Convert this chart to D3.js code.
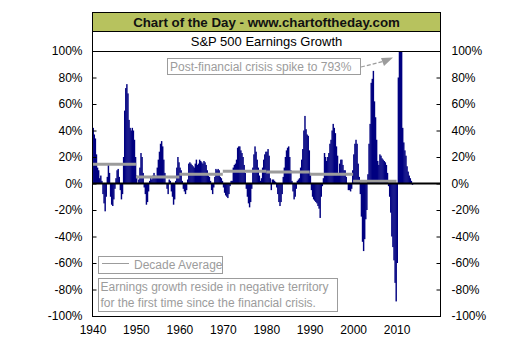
<!DOCTYPE html>
<html><head><meta charset="utf-8">
<script src="https://cdn.jsdelivr.net/npm/d3@7"></script>
<style>
body{margin:0;background:#fff}
text{font-family:"Liberation Sans",Arial,sans-serif}
</style>
</head><body>
<svg id="c" width="532" height="355"></svg>
<script>
// ---- data ----
const startYear = 1940;            // first quarter of the series
const quarterlyGrowth = [          // year-over-year earnings growth (%), one value per quarter
  42, 37, 34, 22,   // 1940
  12, 10, 4, 6,     // 1941
  2, -8, -15, -21,  // 1942
  -10, 5, 14, 8,    // 1943
  -10, -16, -17, -12, // 1944
  -4, 4, 10, 11,    // 1945
  5, -5, -12, -8,   // 1946
  20, 55, 72, 75,   // 1947
  68, 48, 42, 40,   // 1948
  42, 40, 33, 20,   // 1949
  6, 0, 3, 12,      // 1950
  23, 20, 8, -3,    // 1951
  -8, -16, -14, -6, // 1952
  2, 5, 3, 6,       // 1953
  8, 6, 5, 12,      // 1954
  18, 24, 30, 32,   // 1955
  28, 18, 8, 0,     // 1956
  -4, -8, 3, 2,     // 1957
  -6, -10, -16, -12, // 1958
  2, 12, 20, 16,    // 1959
  12, 10, 2, -4,    // 1960
  -6, -8, -5, 3,    // 1961
  15, 16, 15, 14,   // 1962
  13, 12, 15, 18,   // 1963
  14, 15, 18, 17,   // 1964
  16, 15, 17, 16,   // 1965
  14, 10, 6, 5,     // 1966
  2, -5, -8, -3,    // 1967
  5, 11, 10, 11,    // 1968
  10, 5, 4, 2,      // 1969
  -3, -7, -9, -10,  // 1970
  -11, -8, -2, 2,   // 1971
  2, 12, 14, 15,    // 1972
  18, 27, 28, 28,   // 1973
  25, 23, 20, 14,   // 1974
  8, -4, -10, -15,  // 1975
  -18, -14, -4, 12, // 1976
  22, 28, 24, 18,   // 1977
  12, 6, 2, 4,      // 1978
  12, 18, 22, 24,   // 1979
  24, 26, 21, 4,    // 1980
  -5, 3, 3, 2,      // 1981
  1, -3, -8, -14,   // 1982
  -17, -14, -8, 5,  // 1983
  12, 20, 25, 27,   // 1984
  28, 20, 10, 2,    // 1985
  -6, -12, -10, -4, // 1986
  2, 3, 4, 12,      // 1987
  18, 26, 40, 51,   // 1988
  41, 37, 36, 25,   // 1989
  8, -5, -10, -12,  // 1990
  -13, -14, -15, -17, // 1991
  -19, -26, -10, -2, // 1992
  4, 23, 20, 17,    // 1993
  20, 23, 30, 33,   // 1994
  40, 45, 42, 38,   // 1995
  28, 21, 8, 15,    // 1996
  18, 18, 14, 10,   // 1997
  10, 5, 0, -5,     // 1998
  -5, -6, -4, 10,   // 1999
  22, 30, 33, 30,   // 2000
  15, 5, -8, -25,   // 2001
  -44, -51, -42, -27, // 2002
  -20, 7, 30, 45,   // 2003
  76, 79, 85, 62,   // 2004
  50, 33, 17, 14,   // 2005
  22, 21, 19, 18,   // 2006
  17, 16, 14, 8,    // 2007
  -2, -10, -22, -40, // 2008
  -48, -58, -75, -89, // 2009
  -60, 80, 793, 400, // 2010
  200, 42, 31, 25,  // 2011
  21, 13, 9, 6,     // 2012
  4, 2, -1          // 2013
];
const decadeStarts   = [1940, 1950, 1960, 1970, 1980, 1990, 2000];
const decadeAverages = [14.5, 5, 7, 9.3, 8.7, 7, 1.7];
const yTicks = [-100, -80, -60, -40, -20, 0, 20, 40, 60, 80, 100];
const xTicks = [1940, 1950, 1960, 1970, 1980, 1990, 2000, 2010];
const titleText = "Chart of the Day - www.chartoftheday.com";
const subtitleText = "S&P 500 Earnings Growth";
const spikeNote = "Post-financial crisis spike to 793%";
const legendText = "Decade Average";
const noteLines = ["Earnings growth reside in negative territory",
                   "for the first time since the financial crisis."];

// ---- layout ----
const L = 92.5, R = 440.5, T = 12.5, TB = 31.5, PT = 51.5, B = 316.5;
const svg = d3.select("#c");
const x = d3.scaleLinear().domain([1940, 2020]).range([L, R - 0.5]);
const y = d3.scaleLinear().domain([-100, 100]).range([316, 51]);
const GRAY = "#9c9c9c";

svg.append("defs").append("clipPath").attr("id", "plot")
  .append("rect").attr("x", L).attr("y", PT).attr("width", R - L).attr("height", B - PT);

// title band
svg.append("rect").attr("x", L).attr("y", T).attr("width", R - L).attr("height", TB - T)
  .attr("fill", "#b7c25e");
svg.append("text").attr("x", (L + R) / 2).attr("y", 27).attr("text-anchor", "middle")
  .attr("font-size", 13.3).attr("font-weight", "bold").attr("fill", "#111").text(titleText);
svg.append("text").attr("x", (L + R) / 2).attr("y", 46).attr("text-anchor", "middle")
  .attr("font-size", 13).attr("fill", "#000").text(subtitleText);

// bars
const data = quarterlyGrowth.map((v, i) => ({t: startYear + i / 4, v}));
const gBars = svg.append("g").attr("clip-path", "url(#plot)");
gBars.selectAll("rect").data(data).join("rect")
  .attr("x", d => x(d.t))
  .attr("width", d => x(d.t + 0.25) - x(d.t) + 0.35)
  .attr("y", d => y(Math.max(0, d.v)))
  .attr("height", d => Math.abs(y(d.v) - y(0)))
  .attr("fill", "#000080");

// decade averages
svg.append("g").selectAll("line").data(decadeStarts).join("line")
  .attr("x1", d => x(d)).attr("x2", d => x(d + 10))
  .attr("y1", (d, i) => y(decadeAverages[i])).attr("y2", (d, i) => y(decadeAverages[i]))
  .attr("stroke", GRAY).attr("stroke-width", 3);

// zero line
svg.append("line").attr("x1", L).attr("x2", R).attr("y1", y(0)).attr("y2", y(0))
  .attr("stroke", "#000").attr("stroke-width", 2);

// axes
const fmt = d => d + "%";
const ay = svg.append("g").attr("transform", `translate(${L},0)`)
  .call(d3.axisLeft(y).tickValues(yTicks).tickFormat(fmt).tickSize(-4).tickPadding(10));
const ay2 = svg.append("g").attr("transform", `translate(${R},0)`)
  .call(d3.axisRight(y).tickValues(yTicks).tickFormat(fmt).tickSize(-4).tickPadding(11));
const ax = svg.append("g").attr("transform", `translate(0,${B})`)
  .call(d3.axisBottom(x).tickValues(xTicks).tickFormat(d3.format("d")).tickSize(0).tickPadding(9));
[ay, ay2, ax].forEach(g => {
  g.select(".domain").remove();
  g.selectAll("text").attr("font-size", 12).attr("fill", "#000")
    .attr("font-family", '"Liberation Sans",Arial,sans-serif');
  g.selectAll("line").attr("stroke", "#000");
});

// frame
svg.append("rect").attr("x", L).attr("y", T).attr("width", R - L).attr("height", B - T)
  .attr("fill", "none").attr("stroke", "#000");
svg.append("line").attr("x1", L).attr("x2", R).attr("y1", TB).attr("y2", TB).attr("stroke", "#000");
svg.append("line").attr("x1", L).attr("x2", R).attr("y1", PT).attr("y2", PT).attr("stroke", "#000");

// spike annotation
svg.append("rect").attr("x", 167.5).attr("y", 58.5).attr("width", 193).attr("height", 16)
  .attr("fill", "#fff").attr("stroke", GRAY);
svg.append("text").attr("x", 170).attr("y", 71).attr("font-size", 12).attr("fill", GRAY).text(spikeNote);
svg.append("line").attr("x1", 361).attr("y1", 67).attr("x2", 383).attr("y2", 61.5)
  .attr("stroke", GRAY).attr("stroke-width", 1.2).attr("stroke-dasharray", "4,2");
svg.append("path").attr("d", "M381,58 L393,57.5 L384,66 Z").attr("fill", GRAY);

// legend
svg.append("rect").attr("x", 98.5).attr("y", 256.5).attr("width", 124).attr("height", 17)
  .attr("fill", "#fff").attr("stroke", GRAY);
svg.append("line").attr("x1", 102).attr("x2", 129).attr("y1", 263.5).attr("y2", 263.5)
  .attr("stroke", GRAY);
svg.append("text").attr("x", 134).attr("y", 269).attr("font-size", 12).attr("fill", GRAY).text(legendText);

// note box
svg.append("rect").attr("x", 98.5).attr("y", 278.5).attr("width", 239).attr("height", 33)
  .attr("fill", "#fff").attr("stroke", GRAY);
svg.append("g").selectAll("text").data(noteLines).join("text")
  .attr("x", 100.5).attr("y", (d, i) => 291 + i * 16)
  .attr("font-size", 12).attr("fill", GRAY).text(d => d);
</script>
</body></html>
